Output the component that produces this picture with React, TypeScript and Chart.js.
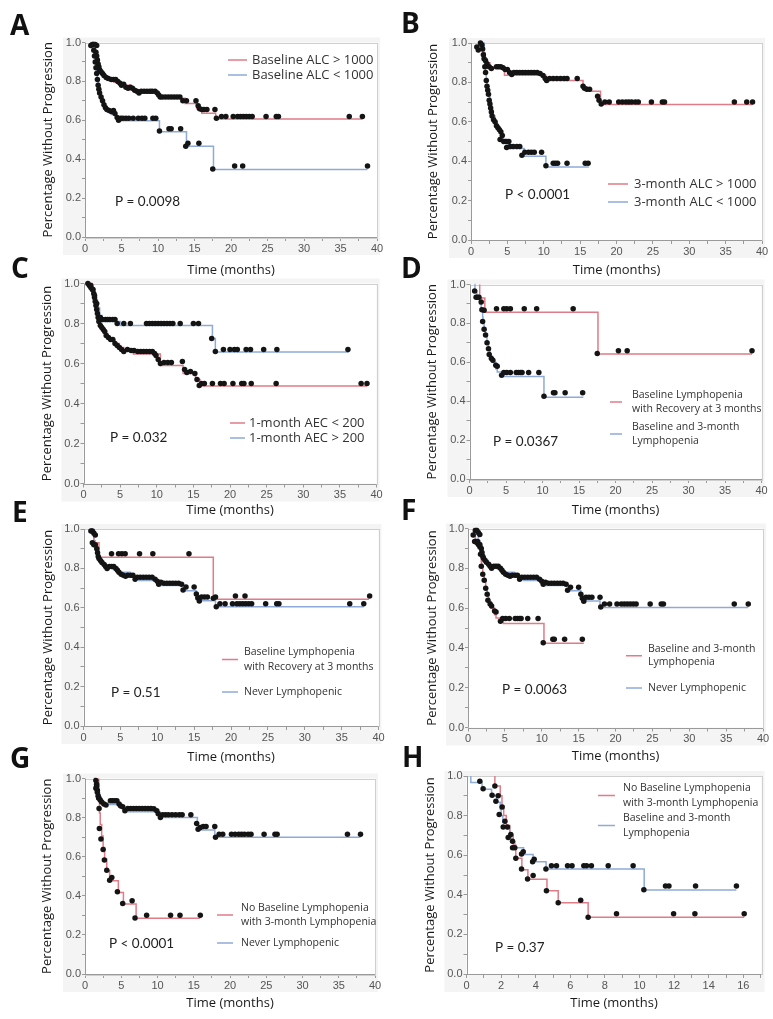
import React, { useEffect, useRef } from "react";
import { Chart, registerables } from "chart.js";

Chart.register(...registerables);

type Pt = [number, number];

// ---------- tick labels ----------
const TIME_TICKS_40 = [0, 5, 10, 15, 20, 25, 30, 35, 40];
const TIME_TICKS_16 = [0, 2, 4, 6, 8, 10, 12, 14, 16];
const PCT_TICKS = [0, 0.2, 0.4, 0.6, 0.8, 1.0];

// ---------- Panel A ----------
const A_red: Pt[] = [[1.0,1.0],[1.2,0.97],[1.4,0.94],[1.6,0.91],[1.8,0.88],[2.0,0.86],[2.3,0.84],[2.7,0.82],[3.0,0.808],[4.0,0.795],[4.8,0.78],[6.3,0.756],[7.5,0.739],[10.2,0.713],[13.7,0.687],[15.3,0.66],[16.0,0.636],[17.9,0.607],[38.0,0.607]];
const A_blue: Pt[] = [[1.0,1.0],[1.2,0.96],[1.35,0.92],[1.5,0.88],[1.6,0.84],[1.7,0.80],[1.85,0.77],[2.0,0.74],[2.2,0.71],[2.5,0.68],[2.8,0.66],[3.2,0.645],[3.6,0.63],[4.3,0.61],[4.6,0.598],[10.2,0.541],[13.9,0.467],[17.6,0.347],[38.7,0.347]];
const A_redDots: Pt[] = [[0.8,0.985],[1.0,0.99],[1.2,0.99],[1.4,0.99],[1.6,0.985],[1.5,0.95],[1.6,0.93],[1.7,0.91],[1.8,0.89],[1.9,0.875],[2.0,0.86],[2.2,0.85],[2.4,0.84],[2.6,0.83],[2.9,0.82],[3.2,0.815],[3.6,0.81],[3.9,0.81],[4.2,0.81],[4.5,0.80],[4.8,0.79],[5.0,0.78],[5.3,0.785],[5.6,0.77],[5.9,0.765],[6.2,0.77],[6.5,0.765],[6.8,0.755],[7.1,0.75],[7.4,0.74],[7.7,0.75],[8.1,0.75],[8.5,0.75],[8.9,0.75],[9.2,0.75],[9.6,0.75],[9.9,0.74],[10.1,0.73],[10.3,0.72],[10.6,0.72],[11.0,0.72],[11.4,0.72],[11.8,0.72],[12.2,0.72],[12.6,0.72],[13.0,0.72],[13.4,0.70],[13.9,0.70],[15.2,0.70],[15.5,0.675],[15.7,0.66],[16.0,0.655],[16.3,0.655],[16.7,0.655],[17.8,0.655],[18.0,0.61],[18.7,0.62],[19.3,0.62],[20.3,0.62],[20.9,0.62],[21.3,0.62],[21.7,0.62],[22.1,0.62],[22.5,0.62],[22.9,0.62],[24.8,0.62],[26.2,0.62],[26.5,0.62],[36.2,0.62],[38.0,0.62]];
const A_blueDots: Pt[] = [[1.2,0.96],[1.3,0.93],[1.4,0.90],[1.5,0.87],[1.6,0.84],[1.7,0.81],[1.8,0.78],[1.9,0.76],[2.0,0.74],[2.2,0.72],[2.4,0.70],[2.6,0.68],[2.8,0.665],[3.0,0.655],[3.3,0.65],[3.6,0.645],[3.9,0.65],[4.1,0.635],[4.4,0.615],[4.6,0.60],[4.9,0.61],[5.2,0.61],[5.6,0.61],[6.0,0.61],[6.6,0.61],[7.3,0.61],[7.8,0.61],[8.2,0.61],[9.3,0.61],[9.7,0.61],[10.2,0.545],[11.5,0.557],[11.8,0.557],[13.1,0.557],[13.8,0.467],[14.1,0.482],[15.6,0.482],[17.5,0.35],[20.5,0.365],[21.6,0.365],[38.7,0.365]];

// ---------- Panel B ----------
const B_red: Pt[] = [[1.0,1.0],[1.3,0.98],[1.6,0.95],[1.9,0.92],[2.2,0.90],[2.6,0.88],[3.0,0.87],[4.6,0.836],[10.3,0.81],[15.4,0.775],[16.0,0.755],[17.8,0.6875],[38.7,0.6875]];
const B_blue: Pt[] = [[1.6,1.0],[1.8,0.95],[1.9,0.90],[2.0,0.86],[2.1,0.82],[2.2,0.78],[2.4,0.74],[2.6,0.70],[2.8,0.66],[3.0,0.63],[3.3,0.60],[3.6,0.57],[4.0,0.54],[4.4,0.51],[5.0,0.485],[5.3,0.465],[7.3,0.425],[10.3,0.37],[16.2,0.37]];
const B_redDots: Pt[] = [[0.8,0.98],[1.0,0.965],[1.3,1.0],[1.5,0.99],[1.6,0.97],[1.7,0.94],[1.8,0.92],[2.0,0.91],[2.2,0.895],[2.5,0.88],[2.8,0.87],[3.5,0.88],[3.8,0.88],[4.1,0.88],[4.4,0.875],[4.7,0.865],[5.0,0.865],[5.3,0.85],[5.6,0.84],[5.9,0.85],[6.3,0.85],[6.7,0.85],[7.1,0.85],[7.5,0.85],[7.9,0.85],[8.3,0.85],[8.7,0.85],[9.1,0.85],[9.5,0.845],[9.9,0.835],[10.2,0.82],[10.4,0.81],[10.8,0.82],[11.3,0.82],[11.8,0.82],[12.3,0.82],[12.8,0.82],[13.2,0.82],[14.6,0.82],[15.4,0.78],[15.6,0.77],[15.9,0.765],[16.3,0.765],[17.4,0.73],[17.6,0.71],[17.9,0.69],[18.4,0.70],[19.0,0.70],[20.3,0.70],[20.8,0.70],[21.3,0.70],[21.7,0.70],[22.1,0.70],[22.6,0.70],[23.0,0.70],[24.8,0.70],[26.3,0.70],[26.6,0.70],[36.2,0.70],[37.9,0.70],[38.7,0.70]];
const B_blueDots: Pt[] = [[1.9,0.88],[2.0,0.85],[2.1,0.81],[2.2,0.78],[2.3,0.76],[2.4,0.74],[2.5,0.71],[2.6,0.69],[2.7,0.67],[2.8,0.65],[2.9,0.63],[3.1,0.61],[3.3,0.60],[3.5,0.58],[3.7,0.57],[3.9,0.56],[4.1,0.55],[4.3,0.53],[4.0,0.51],[4.5,0.50],[4.8,0.50],[5.2,0.50],[4.9,0.47],[5.4,0.475],[5.8,0.475],[6.3,0.475],[6.7,0.475],[7.0,0.43],[7.4,0.445],[7.9,0.445],[8.3,0.445],[8.7,0.445],[9.7,0.445],[10.3,0.377],[11.3,0.39],[11.6,0.39],[11.9,0.39],[13.2,0.39],[15.7,0.39],[16.1,0.39]];

// ---------- Panel C ----------
const C_red: Pt[] = [[0.9,1.0],[1.2,0.97],[1.5,0.93],[1.7,0.89],[1.9,0.85],[2.1,0.81],[2.3,0.79],[2.6,0.77],[2.9,0.75],[3.3,0.73],[3.7,0.715],[4.3,0.70],[4.9,0.68],[5.5,0.665],[6.8,0.647],[10.5,0.59],[13.6,0.55],[15.3,0.52],[15.9,0.487],[38.7,0.487]];
const C_blue: Pt[] = [[0.7,1.0],[1.0,0.98],[1.3,0.95],[1.6,0.92],[1.9,0.88],[2.2,0.84],[2.5,0.81],[5.0,0.79],[17.6,0.725],[18.0,0.657],[36.2,0.657]];
const C_redDots: Pt[] = [[0.8,0.99],[1.0,0.98],[1.2,0.97],[1.4,0.95],[1.5,0.93],[1.6,0.91],[1.7,0.89],[1.8,0.87],[1.9,0.85],[2.0,0.83],[2.1,0.81],[2.3,0.79],[2.5,0.78],[2.7,0.77],[2.9,0.76],[3.1,0.74],[3.4,0.73],[3.7,0.72],[4.0,0.72],[4.3,0.70],[4.6,0.69],[4.9,0.68],[5.2,0.67],[5.5,0.66],[6.0,0.67],[6.5,0.665],[6.9,0.665],[7.4,0.66],[7.8,0.66],[8.2,0.66],[8.6,0.66],[9.0,0.66],[9.4,0.66],[9.7,0.65],[9.9,0.64],[10.2,0.62],[10.5,0.60],[11.0,0.605],[11.5,0.605],[12.0,0.605],[13.5,0.61],[13.8,0.57],[14.1,0.555],[14.6,0.56],[15.2,0.55],[15.5,0.52],[15.8,0.49],[16.1,0.50],[16.5,0.50],[17.6,0.50],[18.7,0.50],[19.2,0.50],[20.4,0.50],[21.6,0.50],[21.9,0.50],[22.9,0.50],[26.3,0.50],[37.9,0.50],[38.7,0.50]];
const C_blueDots: Pt[] = [[0.6,1.0],[1.0,0.99],[1.3,0.97],[1.5,0.94],[1.8,0.90],[2.3,0.83],[2.6,0.82],[3.0,0.82],[3.3,0.82],[3.6,0.82],[4.0,0.82],[4.3,0.82],[4.6,0.80],[5.5,0.80],[6.4,0.80],[8.6,0.80],[9.0,0.80],[9.4,0.80],[9.8,0.80],[10.2,0.80],[10.6,0.80],[11.0,0.80],[11.4,0.80],[11.8,0.80],[12.2,0.80],[13.2,0.80],[15.0,0.80],[15.7,0.80],[17.5,0.725],[18.0,0.66],[19.1,0.67],[20.0,0.67],[20.6,0.67],[21.0,0.67],[22.2,0.67],[22.8,0.67],[24.6,0.67],[26.4,0.67],[36.1,0.67]];

// ---------- Panel D ----------
const D_red: Pt[] = [[1.4,1.0],[1.4,0.93],[2.1,0.857],[17.6,0.643],[38.7,0.643]];
const D_blue: Pt[] = [[0.7,1.0],[0.75,0.967],[1.0,0.933],[1.4,0.90],[1.6,0.867],[1.8,0.833],[1.85,0.80],[2.0,0.767],[2.2,0.733],[2.4,0.70],[2.6,0.667],[2.8,0.633],[3.1,0.60],[3.6,0.567],[3.8,0.55],[4.7,0.527],[10.2,0.42],[15.6,0.42]];
const D_redDots: Pt[] = [[2.0,0.868],[3.7,0.875],[4.7,0.875],[5.1,0.875],[5.6,0.875],[7.5,0.875],[9.2,0.875],[14.2,0.875],[17.5,0.645],[20.4,0.66],[21.6,0.66],[38.7,0.66]];
const D_blueDots: Pt[] = [[0.7,0.967],[0.9,0.935],[1.1,0.935],[1.3,0.935],[1.6,0.91],[1.7,0.87],[1.8,0.81],[2.0,0.77],[2.2,0.74],[2.4,0.70],[2.6,0.67],[2.7,0.64],[3.0,0.62],[3.2,0.61],[3.6,0.585],[3.8,0.58],[4.4,0.534],[4.7,0.548],[5.1,0.548],[5.6,0.548],[6.4,0.548],[6.7,0.548],[7.0,0.548],[7.2,0.548],[8.1,0.548],[9.5,0.548],[10.2,0.426],[11.5,0.443],[11.7,0.443],[13.1,0.443],[15.5,0.443]];

// ---------- Panel E ----------
const E_red: Pt[] = [[1.4,1.0],[1.4,0.93],[2.1,0.857],[17.6,0.643],[38.7,0.643]];
const E_blue: Pt[] = [[1.0,1.0],[1.2,0.97],[1.4,0.94],[1.6,0.91],[1.8,0.88],[2.0,0.86],[2.3,0.84],[2.7,0.82],[3.0,0.808],[4.0,0.795],[4.8,0.78],[6.3,0.756],[7.5,0.739],[10.2,0.713],[13.7,0.687],[15.3,0.66],[16.0,0.636],[17.9,0.605],[38.0,0.605]];
const E_redDots: Pt[] = [[3.8,0.875],[4.75,0.875],[5.2,0.875],[5.65,0.875],[7.6,0.875],[9.4,0.875],[14.3,0.875],[17.6,0.648],[20.6,0.66],[21.9,0.66],[38.8,0.66]];
const E_blueDots: Pt[] = [[1.0,0.99],[1.2,0.99],[1.4,0.98],[1.6,0.97],[1.2,0.93],[1.4,0.92],[1.6,0.92],[1.8,0.90],[1.9,0.88],[2.0,0.86],[2.1,0.85],[2.3,0.84],[2.5,0.83],[2.8,0.82],[3.0,0.81],[3.2,0.80],[3.5,0.81],[3.8,0.81],[4.1,0.81],[4.4,0.80],[4.6,0.79],[4.8,0.78],[5.1,0.77],[5.4,0.765],[5.7,0.76],[6.0,0.765],[6.4,0.765],[6.7,0.765],[7.0,0.745],[7.3,0.755],[7.7,0.755],[8.1,0.755],[8.5,0.755],[8.9,0.755],[9.3,0.755],[9.7,0.745],[10.0,0.735],[10.2,0.72],[10.5,0.73],[10.9,0.725],[11.3,0.725],[11.7,0.725],[12.1,0.725],[12.5,0.725],[12.9,0.725],[13.3,0.72],[13.5,0.69],[13.9,0.705],[15.0,0.705],[15.3,0.67],[15.5,0.65],[15.7,0.635],[16.0,0.655],[16.4,0.655],[16.8,0.655],[17.9,0.655],[18.0,0.605],[18.5,0.62],[19.2,0.62],[20.2,0.62],[20.8,0.62],[21.2,0.62],[21.6,0.62],[22.0,0.62],[22.4,0.62],[22.8,0.62],[24.7,0.62],[26.2,0.62],[26.5,0.62],[36.1,0.62],[38.0,0.62]];

// ---------- Panel F ----------
const F_red: Pt[] = [[0.7,1.0],[0.75,0.967],[1.0,0.933],[1.4,0.90],[1.6,0.867],[1.8,0.833],[1.85,0.80],[2.0,0.767],[2.2,0.733],[2.4,0.70],[2.6,0.667],[2.8,0.633],[3.1,0.60],[3.6,0.567],[3.8,0.55],[4.8,0.523],[10.3,0.423],[15.7,0.423]];
const F_blue: Pt[] = [[1.0,1.0],[1.2,0.97],[1.4,0.94],[1.6,0.91],[1.8,0.88],[2.0,0.86],[2.3,0.84],[2.7,0.82],[3.0,0.808],[4.0,0.795],[4.8,0.78],[6.3,0.756],[7.5,0.739],[10.2,0.713],[13.7,0.687],[15.3,0.66],[16.0,0.636],[17.9,0.603],[38.0,0.603]];

// ---------- Panel G ----------
const G_red: Pt[] = [[1.9,1.0],[1.9,0.882],[2.0,0.824],[2.1,0.765],[2.3,0.706],[2.5,0.647],[2.7,0.588],[3.0,0.529],[3.4,0.477],[4.6,0.417],[5.3,0.358],[7.05,0.285],[15.9,0.285]];
const G_blue: Pt[] = [[1.2,1.0],[1.4,0.98],[1.6,0.95],[1.8,0.92],[2.1,0.89],[2.4,0.88],[2.7,0.867],[4.8,0.85],[5.5,0.83],[10.3,0.80],[15.5,0.758],[16.0,0.736],[17.9,0.70],[38.0,0.70]];
const G_redDots: Pt[] = [[1.6,0.96],[1.7,0.94],[1.9,0.90],[1.94,0.847],[1.98,0.744],[2.2,0.69],[2.5,0.637],[2.67,0.583],[3.0,0.531],[3.4,0.48],[3.7,0.494],[4.47,0.421],[5.2,0.361],[6.5,0.375],[6.9,0.287],[8.5,0.30],[11.8,0.30],[13.1,0.30],[15.9,0.30]];
const G_blueDots: Pt[] = [[1.5,0.99],[1.6,0.97],[1.5,0.95],[1.7,0.93],[1.8,0.91],[1.9,0.90],[2.1,0.89],[2.3,0.88],[2.6,0.87],[2.9,0.865],[3.5,0.886],[3.8,0.886],[4.1,0.886],[4.4,0.886],[4.7,0.87],[4.9,0.86],[5.2,0.855],[5.5,0.835],[5.9,0.847],[6.3,0.847],[6.7,0.847],[7.1,0.847],[7.5,0.847],[7.9,0.847],[8.3,0.847],[8.7,0.847],[9.1,0.847],[9.5,0.845],[9.9,0.835],[10.1,0.82],[10.4,0.80],[10.7,0.815],[11.1,0.815],[11.5,0.815],[12.0,0.815],[12.5,0.815],[13.0,0.815],[13.4,0.815],[14.6,0.815],[15.4,0.77],[15.6,0.74],[15.9,0.75],[16.3,0.755],[16.7,0.755],[17.9,0.755],[18.0,0.70],[18.5,0.715],[19.0,0.715],[20.2,0.715],[20.7,0.715],[21.2,0.715],[21.6,0.715],[22.0,0.715],[22.5,0.715],[22.9,0.715],[24.7,0.715],[26.2,0.715],[26.5,0.715],[36.2,0.715],[38.0,0.715]];

// ---------- Panel H ----------
const H_red: Pt[] = [[1.64,1.0],[1.64,0.95],[1.95,0.90],[2.05,0.85],[2.15,0.80],[2.3,0.75],[2.5,0.70],[2.7,0.65],[2.85,0.585],[3.2,0.527],[3.55,0.478],[4.65,0.42],[5.3,0.36],[7.03,0.287],[16.05,0.287]];
const H_blue: Pt[] = [[0.25,1.0],[0.25,0.967],[0.9,0.933],[1.45,0.90],[1.75,0.867],[1.95,0.833],[2.0,0.80],[2.1,0.767],[2.3,0.733],[2.5,0.70],[2.6,0.667],[2.8,0.637],[3.3,0.604],[3.85,0.567],[4.6,0.53],[10.27,0.424],[15.6,0.424]];
const H_dots: Pt[] = [[0.77,0.973],[0.96,0.936],[1.48,0.903],[1.64,0.95],[1.70,0.872],[1.83,0.90],[1.89,0.805],[2.06,0.844],[2.12,0.743],[2.22,0.772],[2.37,0.743],[2.41,0.69],[2.56,0.705],[2.66,0.671],[2.66,0.638],[2.79,0.638],[2.85,0.584],[3.18,0.606],[3.28,0.617],[3.18,0.53],[3.53,0.48],[3.82,0.567],[3.91,0.58],[3.85,0.497],[4.59,0.53],[4.62,0.42],[4.91,0.547],[5.2,0.547],[5.3,0.36],[5.84,0.547],[6.1,0.547],[6.6,0.372],[6.78,0.547],[6.94,0.547],[7.22,0.547],[7.03,0.287],[8.19,0.547],[8.67,0.304],[9.63,0.547],[10.25,0.426],[11.5,0.445],[11.7,0.445],[11.97,0.304],[13.2,0.304],[13.24,0.445],[15.6,0.445],[16.05,0.304]];

// ---------- styling ----------
const RED = "#e07b88";
const BLUE = "#8eaad9";
const DOT = "#141414";

interface LegendEntry { color: string; lines: string[]; y: number }
interface PanelCfg {
  letter: string;
  box: [number, number, number, number];
  area: [number, number, number, number];
  xMax: number;
  xMinor: number;
  xTicks: number[];
  xTitleY: number;
  yTitleX: number;
  letterPos: [number, number];
  p: string;
  pPos: [number, number];
  legendFont: number;
  lineGap: number;
  sample: [number, number];
  textX: number;
  legend: LegendEntry[];
  red: Pt[];
  blue: Pt[];
  dots: Pt[];
}

const PANELS: PanelCfg[] = [
  { letter: "A", box: [0, 0, 388, 282], area: [85, 42.5, 377, 237], xMax: 40, xMinor: 2.5, xTicks: TIME_TICKS_40, xTitleY: 270, yTitleX: 48, letterPos: [10, 35], p: "P = 0.0098", pPos: [115, 202], legendFont: 13, lineGap: 15, sample: [228, 247], textX: 252,
    legend: [{ color: RED, lines: ["Baseline ALC > 1000"], y: 60 }, { color: BLUE, lines: ["Baseline ALC < 1000"], y: 75 }],
    red: A_red, blue: A_blue, dots: [...A_redDots, ...A_blueDots] },
  { letter: "B", box: [385, 0, 388, 282], area: [471, 43, 762, 240], xMax: 40, xMinor: 2.5, xTicks: TIME_TICKS_40, xTitleY: 270, yTitleX: 433, letterPos: [401, 33], p: "P < 0.0001", pPos: [505, 195], legendFont: 13, lineGap: 15, sample: [608, 628], textX: 634,
    legend: [{ color: RED, lines: ["3-month ALC > 1000"], y: 184 }, { color: BLUE, lines: ["3-month ALC < 1000"], y: 202 }],
    red: B_red, blue: B_blue, dots: [...B_redDots, ...B_blueDots] },
  { letter: "C", box: [0, 250, 388, 270], area: [83.5, 283.5, 376.5, 483.5], xMax: 40, xMinor: 2.5, xTicks: TIME_TICKS_40, xTitleY: 510, yTitleX: 47, letterPos: [11, 278], p: "P = 0.032", pPos: [110, 438], legendFont: 13, lineGap: 15, sample: [230, 245], textX: 249,
    legend: [{ color: RED, lines: ["1-month AEC < 200"], y: 423 }, { color: BLUE, lines: ["1-month AEC > 200"], y: 438 }],
    red: C_red, blue: C_blue, dots: [...C_redDots, ...C_blueDots] },
  { letter: "D", box: [385, 250, 388, 270], area: [469.5, 284.5, 761.5, 479], xMax: 40, xMinor: 2.5, xTicks: TIME_TICKS_40, xTitleY: 510, yTitleX: 432, letterPos: [401, 278], p: "P = 0.0367", pPos: [493, 442], legendFont: 10.5, lineGap: 14, sample: [610, 622], textX: 632,
    legend: [{ color: RED, lines: ["Baseline Lymphopenia", "with Recovery at 3 months"], y: 395 }, { color: BLUE, lines: ["Baseline and 3-month", "Lymphopenia"], y: 427 }],
    red: D_red, blue: D_blue, dots: [...D_redDots, ...D_blueDots] },
  { letter: "E", box: [0, 495, 388, 272], area: [83.5, 529, 378.5, 726], xMax: 40, xMinor: 2.5, xTicks: TIME_TICKS_40, xTitleY: 757, yTitleX: 48, letterPos: [12, 522], p: "P = 0.51", pPos: [111, 693], legendFont: 10.5, lineGap: 15, sample: [222, 238], textX: 244,
    legend: [{ color: RED, lines: ["Baseline Lymphopenia", "with Recovery at 3 months"], y: 652 }, { color: BLUE, lines: ["Never Lymphopenic"], y: 692 }],
    red: E_red, blue: E_blue, dots: [...E_redDots, ...E_blueDots] },
  { letter: "F", box: [385, 495, 388, 272], area: [468, 528.5, 763, 727.5], xMax: 40, xMinor: 2.5, xTicks: TIME_TICKS_40, xTitleY: 756, yTitleX: 432, letterPos: [401, 520], p: "P = 0.0063", pPos: [502, 690], legendFont: 10.5, lineGap: 13.5, sample: [626, 642], textX: 648,
    legend: [{ color: RED, lines: ["Baseline and 3-month", "Lymphopenia"], y: 649 }, { color: BLUE, lines: ["Never Lymphopenic"], y: 688 }],
    red: F_red, blue: F_blue, dots: [...D_blueDots, ...E_blueDots] },
  { letter: "G", box: [0, 740, 388, 279], area: [85, 778.5, 375, 974], xMax: 40, xMinor: 2.5, xTicks: TIME_TICKS_40, xTitleY: 1003, yTitleX: 47, letterPos: [10, 768], p: "P < 0.0001", pPos: [109, 944], legendFont: 10.5, lineGap: 14, sample: [217, 233], textX: 241,
    legend: [{ color: RED, lines: ["No Baseline Lymphopenia", "with 3-month Lymphopenia"], y: 908 }, { color: BLUE, lines: ["Never Lymphopenic"], y: 943 }],
    red: G_red, blue: G_blue, dots: [...G_redDots, ...G_blueDots] },
  { letter: "H", box: [385, 740, 388, 279], area: [466.5, 776, 761.5, 974], xMax: 17.05, xMinor: 1, xTicks: TIME_TICKS_16, xTitleY: 1003, yTitleX: 430, letterPos: [402, 767], p: "P = 0.37", pPos: [495, 948], legendFont: 10.5, lineGap: 15, sample: [598, 615], textX: 623,
    legend: [{ color: RED, lines: ["No Baseline Lymphopenia", "with 3-month Lymphopenia"], y: 788 }, { color: BLUE, lines: ["Baseline and 3-month", "Lymphopenia"], y: 818 }],
    red: H_red, blue: H_blue, dots: H_dots },
];

const toXY = (arr: Pt[]) => arr.map(([x, y]) => ({ x, y }));
const near = (list: number[], v: number) => list.find((t) => Math.abs(t - v) < 1e-6);

function Panel({ cfg }: { cfg: PanelCfg }) {
  const ref = useRef<HTMLCanvasElement>(null);
  const [ox, oy, W, H] = cfg.box;
  useEffect(() => {
    const canvas = ref.current;
    if (!canvas) return;
    const [L, T, R, B] = cfg.area;
    const deco = {
      id: "deco" + cfg.letter,
      beforeDraw(chart: any) {
        const ctx = chart.ctx;
        const a = chart.chartArea;
        ctx.save();
        ctx.fillStyle = "#f4f4f4";
        ctx.fillRect(a.left - 22, a.top - 5, a.right - a.left + 25, a.bottom - a.top + 23);
        ctx.fillStyle = "#ffffff";
        ctx.fillRect(a.left, a.top, a.right - a.left, a.bottom - a.top);
        ctx.restore();
      },
      beforeDatasetsDraw(chart: any) {
        const ctx = chart.ctx;
        const a = chart.chartArea;
        ctx.save();
        ctx.strokeStyle = "#cfcfcf";
        ctx.lineWidth = 1;
        ctx.strokeRect(Math.round(a.left) + 0.5, Math.round(a.top) + 0.5, Math.round(a.right - a.left), Math.round(a.bottom - a.top));
        ctx.strokeStyle = "#9a9a9a";
        ctx.beginPath();
        ctx.moveTo(Math.round(a.left) + 0.5, a.top);
        ctx.lineTo(Math.round(a.left) + 0.5, a.bottom);
        ctx.moveTo(a.left, Math.round(a.bottom) + 0.5);
        ctx.lineTo(a.right, Math.round(a.bottom) + 0.5);
        ctx.stroke();
        ctx.restore();
      },
      afterDraw(chart: any) {
        const ctx = chart.ctx;
        ctx.save();
        ctx.fillStyle = "#111";
        ctx.font = 'bold 28px "Open Sans"';
        ctx.textBaseline = "alphabetic";
        ctx.textAlign = "left";
        ctx.fillText(cfg.letter, cfg.letterPos[0] - ox, cfg.letterPos[1] - oy);
        ctx.font = `${cfg.legendFont}px "Open Sans"`;
        ctx.textBaseline = "middle";
        cfg.legend.forEach((e) => {
          const sy = e.y + ((e.lines.length - 1) * cfg.lineGap) / 2 - oy;
          ctx.strokeStyle = e.color;
          ctx.lineWidth = 1.5;
          ctx.beginPath();
          ctx.moveTo(cfg.sample[0] - ox, sy);
          ctx.lineTo(cfg.sample[1] - ox, sy);
          ctx.stroke();
          ctx.fillStyle = "#333";
          e.lines.forEach((ln, i) => ctx.fillText(ln, cfg.textX - ox, e.y + i * cfg.lineGap - oy));
        });
        ctx.font = '13.5px "Lato"';
        ctx.fillStyle = "#222";
        ctx.fillText(cfg.p, cfg.pPos[0] - ox, cfg.pPos[1] - oy);
        ctx.restore();
      },
    };
    const tickFont = { family: '"Liberation Sans", Arial, sans-serif', size: 11 };
    const titleFont = { family: '"Open Sans", sans-serif', size: 13, weight: "normal" };
    const chart = new Chart(canvas, {
      type: "scatter",
      data: {
        datasets: [
          { data: toXY(cfg.dots), pointRadius: 2.75, pointBackgroundColor: DOT, pointBorderWidth: 0, showLine: false, order: 0, clip: false } as any,
          { data: toXY(cfg.red), showLine: true, stepped: true, borderColor: RED, borderWidth: 1.5, pointRadius: 0, order: 1, clip: false } as any,
          { data: toXY(cfg.blue), showLine: true, stepped: true, borderColor: BLUE, borderWidth: 1.5, pointRadius: 0, order: 1, clip: false } as any,
        ],
      },
      options: {
        responsive: false,
        animation: false,
        events: [],
        layout: { padding: { left: 0, top: T - oy, right: ox + W - R, bottom: 0 } },
        plugins: { legend: { display: false }, tooltip: { enabled: false } },
        scales: {
          x: {
            type: "linear",
            min: 0,
            max: cfg.xMax,
            afterFit: (s: any) => { s.height = oy + H - B; },
            ticks: {
              stepSize: cfg.xMinor,
              autoSkip: false,
              maxRotation: 0,
              includeBounds: false,
              padding: 1,
              font: tickFont,
              color: "#555",
              callback: (v: any) => { const t = near(cfg.xTicks, Number(v)); return t === undefined ? "" : String(t); },
            },
            grid: { drawOnChartArea: false, drawTicks: true, tickLength: 4, color: "#9a9a9a" },
            border: { display: false },
            title: { display: true, text: "Time (months)", font: titleFont, color: "#1a1a1a", padding: { top: 0, bottom: oy + H - cfg.xTitleY - 7.8 } },
          },
          y: {
            type: "linear",
            min: 0,
            max: 1,
            afterFit: (s: any) => { s.width = L - ox; },
            ticks: {
              stepSize: 0.1,
              autoSkip: false,
              padding: 1,
              font: tickFont,
              color: "#555",
              callback: (v: any) => { const t = near(PCT_TICKS, Number(v)); return t === undefined ? "" : t.toFixed(1); },
            },
            grid: { drawOnChartArea: false, drawTicks: true, tickLength: 3, color: "#9a9a9a" },
            border: { display: false },
            title: { display: true, text: "Percentage Without Progression", font: titleFont, color: "#1a1a1a", padding: { top: cfg.yTitleX - ox - 7.8, bottom: 0 } },
          },
        },
      } as any,
      plugins: [deco],
    });
    return () => chart.destroy();
  }, []);
  return <canvas ref={ref} width={W} height={H} style={{ position: "absolute", left: ox, top: oy, width: W, height: H }} />;
}

export default function App() {
  return (
    <div style={{ position: "absolute", left: 0, top: 0, width: 773, height: 1019, background: "#ffffff", overflow: "hidden" }}>
      {PANELS.map((p) => <Panel key={p.letter} cfg={p} />)}
    </div>
  );
}
